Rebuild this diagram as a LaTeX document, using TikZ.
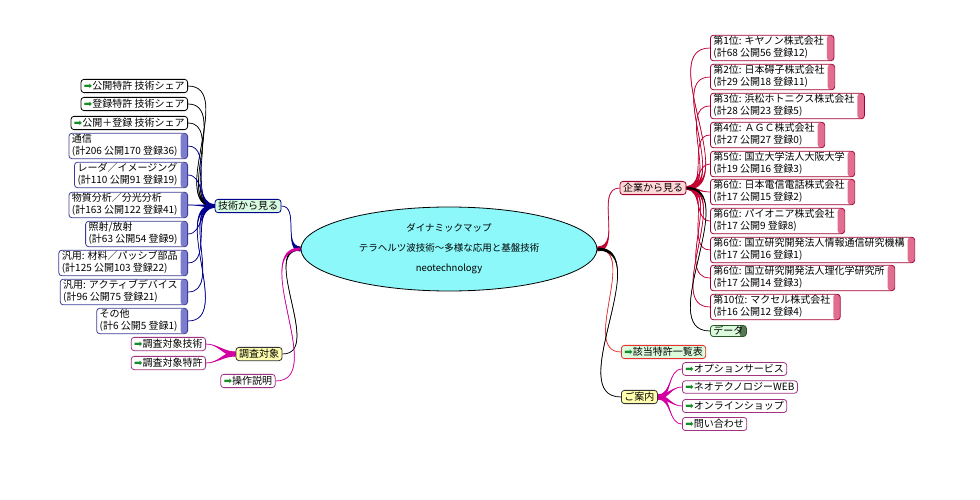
\documentclass[tikz,border=0pt]{standalone}
\usepackage{fontspec}
\setmainfont{Noto Sans CJK JP}
\newfontfamily\iconfont{DejaVu Sans}
\usetikzlibrary{shapes.geometric, calc, backgrounds}

\definecolor{mapfill}{RGB}{140,248,250}
\definecolor{techline}{RGB}{0,0,140}
\definecolor{techedge}{RGB}{60,60,150}
\definecolor{techbar}{RGB}{125,125,205}
\definecolor{techfill}{RGB}{215,250,225}
\definecolor{corpline}{RGB}{195,0,50}
\definecolor{corpedge}{RGB}{160,0,45}
\definecolor{corpbar}{RGB}{225,110,145}
\definecolor{corpfill}{RGB}{255,215,215}
\definecolor{surveyline}{RGB}{210,0,160}
\definecolor{surveyedge}{RGB}{160,50,130}
\definecolor{notefill}{RGB}{255,255,175}
\definecolor{listfill}{RGB}{220,250,220}
\definecolor{listline}{RGB}{225,50,50}
\definecolor{dataedge}{RGB}{40,90,40}
\definecolor{databar}{RGB}{85,120,85}
\definecolor{arrowgreen}{RGB}{20,140,40}

\newcommand{\garrow}{{\iconfont\color{arrowgreen}➡}}
\newcommand{\twoline}[2]{\begin{tabular}{@{}l@{\hspace{7pt}}}#1\\#2\end{tabular}}
% tapered connector: thin end, thick end, colour, out, in, half width
\newcommand{\branch}[6]{%
  \fill[#3] (#1) to[out=#4,in=#5] ($(#2)+(0,#6)$) -- ($(#2)+(0,-#6)$) to[out=#5,in=#4] (#1) -- cycle;
  \draw[#3, line width=0.7pt] (#1) to[out=#4,in=#5] (#2);}

\tikzset{
  box/.style={draw, rounded corners=3pt, line width=0.8pt, fill=white,
    inner xsep=3pt, inner ysep=2pt, font=\fontsize{10}{11}\selectfont},
  barbox/.style={box, path picture={\fill[#1] ([xshift=-7pt]path picture bounding box.north east) rectangle (path picture bounding box.south east);}},
  techbox/.style={barbox=techbar, draw=techedge, inner ysep=1pt},
  corpbox/.style={barbox=corpbar, draw=corpedge, inner ysep=1pt},
  linkbox/.style={box, draw=black},
  surveybox/.style={box, draw=surveyedge},
  mapnode/.style={ellipse, draw, line width=0.8pt, fill=mapfill, minimum width=296pt,
    minimum height=84pt, inner sep=0pt, align=center, font=\fontsize{9.5}{11}\selectfont}
}

\begin{document}
\begin{tikzpicture}[x=1pt, y=-1pt]
  \useasboundingbox (0,0) rectangle (980,500);

  % centre
  \node[mapnode] (map) at (449,249) {ダイナミックマップ\\[9pt]テラヘルツ波技術〜多様な応用と基盤技術\\[9pt]neotechnology};

  % left: technology
  \node[box, draw=techline, fill=techfill] (tech) at (248,206) {技術から見る};
  \node[linkbox, anchor=east] (tl1) at (188,86) {\garrow 公開特許 技術シェア};
  \node[linkbox, anchor=east] (tl2) at (188,104) {\garrow 登録特許 技術シェア};
  \node[linkbox, anchor=east] (tl3) at (188,123) {\garrow 公開＋登録 技術シェア};
  \node[techbox, anchor=east] (tl4) at (188,146) {\twoline{通信}{(計206 公開170 登録36)}};
  \node[techbox, anchor=east] (tl5) at (188,175) {\twoline{レーダ／イメージング}{(計110 公開91 登録19)}};
  \node[techbox, anchor=east] (tl6) at (188,205) {\twoline{物質分析／分光分析}{(計163 公開122 登録41)}};
  \node[techbox, anchor=east] (tl7) at (188,234) {\twoline{照射/放射}{(計63 公開54 登録9)}};
  \node[techbox, anchor=east] (tl8) at (188,263) {\twoline{汎用: 材料／パッシブ部品}{(計125 公開103 登録22)}};
  \node[techbox, anchor=east] (tl9) at (188,292) {\twoline{汎用: アクティブデバイス}{(計96 公開75 登録21)}};
  \node[techbox, anchor=east] (tl10) at (188,321) {\twoline{その他}{(計6 公開5 登録1)}};

  % left: survey
  \node[box, draw=black!80, fill=notefill] (survey) at (259,354) {調査対象};
  \node[surveybox, anchor=east] (sv1) at (206,344) {\garrow 調査対象技術};
  \node[surveybox, anchor=east] (sv2) at (206,363) {\garrow 調査対象特許};
  \node[surveybox] (manual) at (248,381) {\garrow 操作説明};

  % right: companies
  \node[box, draw=corpedge, fill=corpfill] (corp) at (653,188) {企業から見る};
  \node[corpbox, anchor=west] (cc1) at (710,48) {\twoline{第1位: キヤノン株式会社}{(計68 公開56 登録12)}};
  \node[corpbox, anchor=west] (cc2) at (710,77) {\twoline{第2位: 日本碍子株式会社}{(計29 公開18 登録11)}};
  \node[corpbox, anchor=west] (cc3) at (710,106) {\twoline{第3位: 浜松ホトニクス株式会社}{(計28 公開23 登録5)}};
  \node[corpbox, anchor=west] (cc4) at (710,135) {\twoline{第4位: ＡＧＣ株式会社}{(計27 公開27 登録0)}};
  \node[corpbox, anchor=west] (cc5) at (710,164) {\twoline{第5位: 国立大学法人大阪大学}{(計19 公開16 登録3)}};
  \node[corpbox, anchor=west] (cc6) at (710,192) {\twoline{第6位: 日本電信電話株式会社}{(計17 公開15 登録2)}};
  \node[corpbox, anchor=west] (cc7) at (710,221) {\twoline{第6位: パイオニア株式会社}{(計17 公開9 登録8)}};
  \node[corpbox, anchor=west] (cc8) at (710,250) {\twoline{第6位: 国立研究開発法人情報通信研究機構}{(計17 公開16 登録1)}};
  \node[corpbox, anchor=west] (cc9) at (710,278) {\twoline{第6位: 国立研究開発法人理化学研究所}{(計17 公開14 登録3)}};
  \node[corpbox, anchor=west] (cc10) at (710,307) {\twoline{第10位: マクセル株式会社}{(計16 公開12 登録4)}};
  \node[box, barbox=databar, draw=dataedge, fill=listfill, anchor=west, inner ysep=1pt] (data) at (710,331) {データ\hspace{7pt}};

  % right: list and guide
  \node[box, draw=listline, fill=listfill, anchor=west] (list) at (621,352) {\garrow 該当特許一覧表};
  \node[box, draw=black!80, fill=notefill, anchor=west] (guide) at (621,397) {ご案内};
  \node[surveybox, anchor=west] (gd1) at (682,369) {\garrow オプションサービス};
  \node[surveybox, anchor=west] (gd2) at (682,387) {\garrow ネオテクノロジーWEB};
  \node[surveybox, anchor=west] (gd3) at (682,406) {\garrow オンラインショップ};
  \node[surveybox, anchor=west] (gd4) at (682,424) {\garrow 問い合わせ};

  % connectors
  \begin{scope}[on background layer]
    \branch{tech.east}{map.west}{techline}{0}{180}{2.5}
    \branch{survey.east}{map.west}{black}{0}{180}{1.5}
    \branch{manual.east}{map.west}{surveyline}{0}{180}{1.5}
    \foreach \i in {1,2,3} {\branch{tl\i.east}{tech.west}{black}{0}{180}{1.2}}
    \foreach \i in {4,...,10} {\branch{tl\i.east}{tech.west}{techline}{0}{180}{1.8}}
    \branch{sv1.east}{survey.west}{surveyline}{0}{180}{2.5}
    \branch{sv2.east}{survey.west}{surveyline}{0}{180}{2.5}
    \branch{corp.west}{map.east}{corpline}{180}{0}{2.5}
    \branch{list.west}{map.east}{listline}{180}{0}{0.6}
    \branch{guide.west}{map.east}{black}{180}{0}{1.5}
    \foreach \i in {1,...,10} {\branch{cc\i.west}{corp.east}{corpline}{180}{0}{1.8}}
    \branch{data.west}{corp.east}{black}{180}{0}{1.2}
    \foreach \i in {1,...,4} {\branch{gd\i.west}{guide.east}{surveyline}{180}{0}{2.5}}
  \end{scope}
\end{tikzpicture}
\end{document}
